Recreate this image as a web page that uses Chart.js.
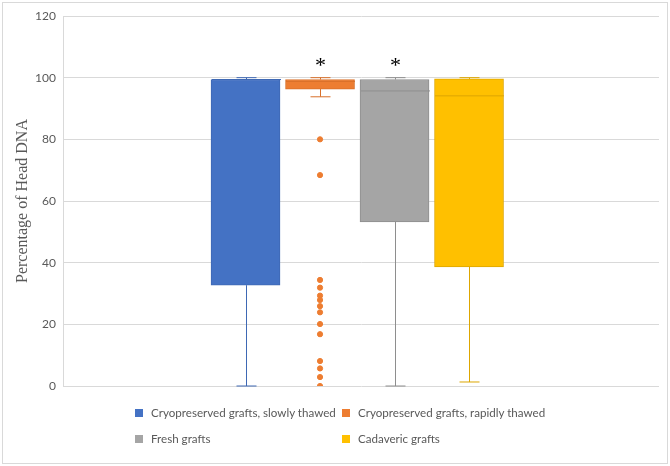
<!DOCTYPE html>
<html lang="en">
<head>
  <meta charset="UTF-8">
  <title>Percentage of Head DNA</title>
  <script src="https://cdn.jsdelivr.net/npm/chart.js"></script>
  <style>
    body { margin: 0; background: #fff; }
    .wrap { position: relative; width: 670px; height: 466px; }
    .frame { position: absolute; left: 2px; top: 2px; width: 664px; height: 460px; border: 1px solid #d9d9d9; pointer-events: none; }
    .legend { position: absolute; left: 0; top: 405px; width: 670px; font-family: Lato, "Liberation Sans", sans-serif; font-size: 11.6px; color: #595959; }
    .legend span { position: absolute; white-space: nowrap; line-height: 15px; }
    .legend i { display: inline-block; width: 8px; height: 8px; margin-right: 8px; }
  </style>
</head>
<body>
  <div class="wrap">
    <canvas id="chart" width="670" height="466"></canvas>
    <div class="frame"></div>
    <div class="legend" id="legend"></div>
  </div>

  <script>
    // box & whisker summary
    const groups = ["Cryopreserved grafts, slowly thawed", "Cryopreserved grafts, rapidly thawed", "Fresh grafts", "Cadaveric grafts"];
    const whiskerLow = [0, 93.8, 0, 1.3];
    const q1 = [32.7, 96.3, 53.2, 38.6];
    const medians = [99.4, 98.8, 95.7, 94.1];
    const q3 = [99.4, 99.4, 99.4, 99.6];
    const whiskerHigh = [100, 100, 100, 100];
    const rapidOutliers = [80.0, 68.4, 34.4, 31.9, 29.3, 27.9, 25.9, 23.9, 20.1, 16.8, 8.1, 5.7, 2.9, 0];
    const marks = ["", "*", "*", ""];
    const yTicks = [0, 20, 40, 60, 80, 100, 120];

    const fills = ["#4472C4", "#ED7D31", "#A5A5A5", "#FFC000"];
    const lines = ["#3E68B4", "#D8702A", "#8E8E8E", "#DDA600"];

    const datasets = groups.map((g, i) => ({
      type: "bar",
      label: g,
      data: [{ x: i + 1, y: [q1[i], q3[i]] }],
      backgroundColor: fills[i],
      borderColor: lines[i],
      borderWidth: 1,
      borderSkipped: false,
      grouped: false,
      barThickness: 69
    }));
    datasets.push({
      type: "scatter",
      label: "outliers",
      data: rapidOutliers.map(v => ({ x: 2, y: v })),
      backgroundColor: fills[1],
      borderColor: fills[1],
      pointRadius: 2.6,
      pointHoverRadius: 2.6
    });

    // whiskers, medians and significance marks
    const boxExtras = {
      id: "boxExtras",
      afterDatasetsDraw(chart) {
        const { ctx, scales: { x, y } } = chart;
        ctx.save();
        groups.forEach((g, i) => {
          const bar = chart.getDatasetMeta(i).data[0];
          const cx = Math.round(x.getPixelForValue(i + 1)) + 0.5;
          const half = bar.width / 2;
          const cap = 10;
          ctx.strokeStyle = lines[i];
          ctx.lineWidth = 1;
          ctx.beginPath();
          ctx.moveTo(cx, y.getPixelForValue(q3[i]));
          ctx.lineTo(cx, y.getPixelForValue(whiskerHigh[i]));
          ctx.moveTo(cx, y.getPixelForValue(q1[i]));
          ctx.lineTo(cx, y.getPixelForValue(whiskerLow[i]));
          ctx.moveTo(cx - cap, y.getPixelForValue(whiskerHigh[i]));
          ctx.lineTo(cx + cap, y.getPixelForValue(whiskerHigh[i]));
          ctx.moveTo(cx - cap, y.getPixelForValue(whiskerLow[i]));
          ctx.lineTo(cx + cap, y.getPixelForValue(whiskerLow[i]));
          ctx.moveTo(cx - half, y.getPixelForValue(medians[i]));
          ctx.lineTo(cx + half, y.getPixelForValue(medians[i]));
          ctx.stroke();
          if (marks[i]) {
            ctx.fillStyle = "#000";
            ctx.font = "22px 'Liberation Serif'";
            ctx.textAlign = "center";
            ctx.textBaseline = "middle";
            ctx.fillText(marks[i], cx, y.getPixelForValue(103.6));
          }
        });
        ctx.restore();
      }
    };

    new Chart(document.getElementById("chart"), {
      data: { datasets },
      options: {
        responsive: false,
        animation: false,
        layout: { padding: { top: 16, bottom: 80, left: 8, right: 11 } },
        plugins: { legend: { display: false }, tooltip: { enabled: false } },
        scales: {
          x: { type: "linear", min: -1.45, max: 6.55, offset: false, display: false },
          y: {
            min: 0, max: 120,
            afterBuildTicks: axis => { axis.ticks = yTicks.map(v => ({ value: v })); },
            afterFit: axis => { axis.width = 55; },
            ticks: { color: "#595959", padding: 7, font: { family: "Lato", size: 12 } },
            grid: { color: "#d9d9d9", drawTicks: false },
            border: { display: true, color: "#d9d9d9" },
            title: {
              display: true, text: "Percentage of Head DNA", color: "#595959",
              font: { family: "'Liberation Serif'", size: 16 }, padding: { top: 5, bottom: 5 }
            }
          }
        }
      },
      plugins: [boxExtras]
    });

    const legendPos = [[135, 0], [342, 0], [135, 26], [342, 26]];
    const legend = document.getElementById("legend");
    groups.forEach((g, i) => {
      const s = document.createElement("span");
      s.style.left = legendPos[i][0] + "px";
      s.style.top = legendPos[i][1] + "px";
      s.innerHTML = '<i style="background:' + fills[i] + '"></i>' + g;
      legend.appendChild(s);
    });
  </script>
</body>
</html>
